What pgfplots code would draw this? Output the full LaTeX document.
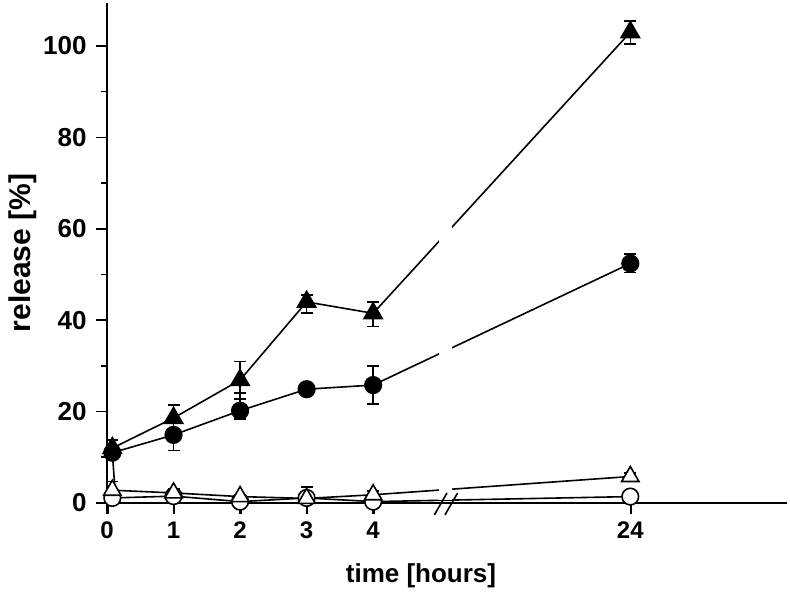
\documentclass[border=0pt]{standalone}
\usepackage{pgfplots}
\pgfplotsset{compat=1.18}
\usepackage{fontspec}
\setmainfont{Liberation Sans}
\begin{document}
\begin{tikzpicture}
\begin{axis}[
  scale only axis, width=680pt, height=500pt,
  xmin=0, xmax=10.22, ymin=0, ymax=109.4,
  axis lines*=left,
  xtick={0,1,2,3,4,7.865}, xticklabels={0,1,2,3,4,24},
  ytick={0,20,40,60,80,100}, minor ytick={10,30,50,70,90},
  tick align=outside,
  major tick length=11pt, minor tick length=6pt,
  tick style={line width=1.6pt, black},
  axis line style={line width=2.6pt},
  xticklabel style={font=\fontsize{24}{28}\selectfont\bfseries, yshift=-4pt, fill=none},
  yticklabel style={font=\fontsize{26}{30}\selectfont\bfseries, xshift=-6pt},
  /pgf/number format/assume math mode=true,
  xlabel={time [hours]}, ylabel={release [\%]},
  xlabel style={font=\fontsize{26}{30}\selectfont\bfseries, xshift=-26pt, yshift=-18pt},
  ylabel style={font=\fontsize{30}{32}\selectfont\bfseries,
    at={(axis description cs:-0.098,0.5)}, anchor=south},
  clip=false,
  every axis plot/.append style={line width=1.6pt, black},
  error bars/error bar style={line width=1.6pt, black},
  error bars/error mark options={line width=1.6pt, mark size=6pt, rotate=90},
]
% bounding box
\path (rel axis cs:0,0) ++(-107pt,-93pt);
\path (rel axis cs:1,1) ++(3pt,3pt);
% small connector near t=0
\addplot[no marks, line width=1.6pt] coordinates {(0.08,11) (0.12,3)};
% open circles
\addplot[mark=*, mark size=8.3pt, mark options={fill=white, line width=1.6pt},
  error bars/.cd, y dir=both, y explicit]
  table[x=x, y=y, y error plus=ep, y error minus=em] {
x y ep em
0.08 1.1 1.0 1.0
1 1.5 1.0 1.0
2 0.3 0.3 0.3
3 1.1 2.4 1.1
4 0.3 0.5 0.3
7.865 1.4 1.2 1.4
};
% open triangles
\addplot[mark=triangle*, mark size=10pt, mark options={fill=white, line width=1.6pt},
  error bars/.cd, y dir=both, y explicit]
  table[x=x, y=y, y error plus=ep, y error minus=em] {
x y ep em
0.08 2.8 1.9 1.0
1 2.2 0.8 0.8
2 1.4 0.5 0.5
3 1.0 0.5 0.5
4 1.8 0.8 0.8
7.865 5.8 0.8 0.8
};
% filled circles
\addplot[mark=*, mark size=8.3pt, mark options={fill=black},
  error bars/.cd, y dir=both, y explicit]
  table[x=x, y=y, y error plus=ep, y error minus=em] {
x y ep em
0.08 11.0 1.5 1.5
1 14.9 3.4 3.4
2 20.2 3.9 1.8
3 24.9 0.6 0.6
4 25.8 4.2 4.1
7.865 52.4 2.1 2.0
};
% filled triangles
\addplot[mark=triangle*, mark size=10.5pt, mark options={fill=black},
  error bars/.cd, y dir=both, y explicit]
  table[x=x, y=y, y error plus=ep, y error minus=em] {
x y ep em
0.08 12.0 1.8 1.5
1 18.6 2.8 2.8
2 26.9 4.1 4.1
3 44.0 1.5 2.4
4 41.5 2.5 2.9
7.865 103.0 2.5 2.6
};
% gap in the lines at the axis break
\fill[white] (axis cs:4.99,0.7) rectangle (axis cs:5.19,108);
% break marks
\draw[line width=1.6pt] (axis cs:4.92,-2.6) -- (axis cs:5.11,2.2);
\draw[line width=1.6pt] (axis cs:5.08,-2.6) -- (axis cs:5.27,2.2);
% x tick marks
\draw[line width=1.8pt, black] (axis cs:0.02,-0.3) -- (axis cs:0.02,-2.3);
\draw[line width=1.8pt, black] (axis cs:1.01,-0.3) -- (axis cs:1.01,-2.3);
\draw[line width=1.8pt, black] (axis cs:2.01,-0.3) -- (axis cs:2.01,-2.3);
\draw[line width=1.8pt, black] (axis cs:3.01,-0.3) -- (axis cs:3.01,-2.3);
\draw[line width=1.8pt, black] (axis cs:4.01,-0.3) -- (axis cs:4.01,-2.3);
\draw[line width=1.8pt, black] (axis cs:7.87,-0.3) -- (axis cs:7.87,-2.3);
\end{axis}
\end{tikzpicture}
\end{document}
